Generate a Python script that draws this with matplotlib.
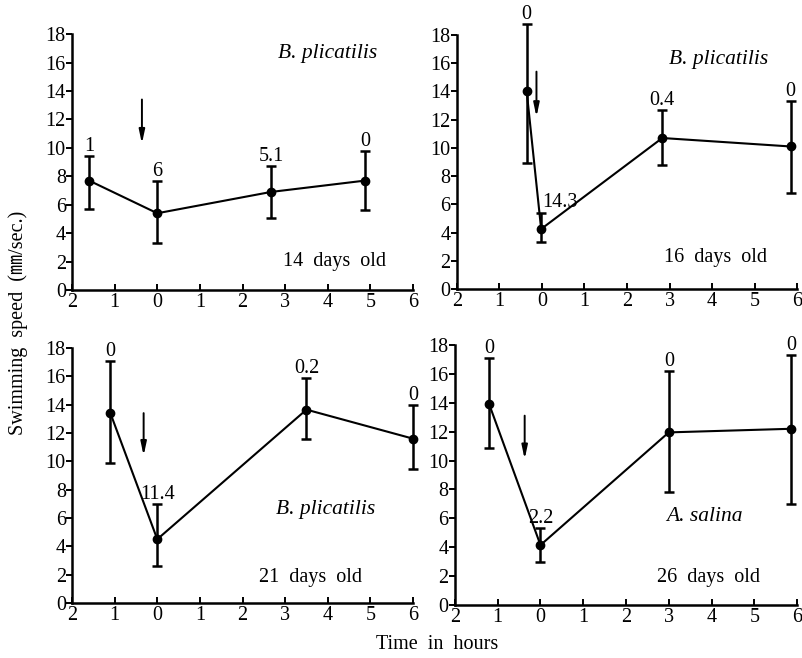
import matplotlib
matplotlib.use("Agg")
import matplotlib.pyplot as plt
import numpy as np

plt.rcParams['font.family'] = ['Liberation Serif', 'Noto Sans CJK JP']

# ---- data (time in hours, speed in mm/sec) ----
x_14 = [-1.6, 0.0, 2.67, 4.88]
y_14 = [7.7, 5.4, 6.9, 7.7]
hi_14 = [9.4, 7.7, 8.7, 9.8]
lo_14 = [5.7, 3.3, 5.1, 5.6]
lab_14 = ['1', '6', '5.1', '0']

x_16 = [-0.36, -0.02, 2.83, 5.85]
y_16 = [14.0, 4.25, 10.7, 10.1]
hi_16 = [18.75, 5.4, 12.65, 13.3]
lo_16 = [8.95, 3.3, 8.8, 6.8]
lab_16 = ['0', '14.3', '0.4', '0']

x_21 = [-1.1, 0.0, 3.5, 6.0]
y_21 = [13.4, 4.5, 13.65, 11.6]
hi_21 = [17.1, 7.0, 15.9, 14.0]
lo_21 = [9.9, 2.6, 11.6, 9.45]
lab_21 = ['0', '11.4', '0.2', '0']

x_26 = [-1.2, 0.0, 3.0, 5.86]
y_26 = [13.9, 4.15, 11.95, 12.2]
hi_26 = [17.1, 5.3, 16.2, 17.3]
lo_26 = [10.9, 3.0, 7.85, 7.0]
lab_26 = ['0', '2.2', '0', '0']

species = ['B. plicatilis', 'B. plicatilis', 'B. plicatilis', 'A. salina']
ages = ['14  days  old', '16  days  old', '21  days  old', '26  days  old']
# arrow (time, from speed, to speed)
arrows = [(-0.36, 13.6, 10.1), (-0.13, 15.6, 12.0), (-0.32, 13.6, 10.2), (-0.37, 13.3, 9.9)]

xticks = [-2, -1, 0, 1, 2, 3, 4, 5, 6]
xtick_labels = [str(abs(t)) for t in xticks]
yticks = list(range(0, 19, 2))

fig = plt.figure(figsize=(8.02, 6.58), dpi=100)

positions = [
    [0.0898, 0.5593, 0.4252, 0.3887],
    [0.5698, 0.5608, 0.4240, 0.3860],
    [0.0898, 0.0836, 0.4252, 0.3875],
    [0.5673, 0.0805, 0.4265, 0.3952],
]
panels = [
    (x_14, y_14, hi_14, lo_14, lab_14),
    (x_16, y_16, hi_16, lo_16, lab_16),
    (x_21, y_21, hi_21, lo_21, lab_21),
    (x_26, y_26, hi_26, lo_26, lab_26),
]
# where the species / age notes sit (axes fraction)
species_pos = [(0.75, 0.925), (0.77, 0.905), (0.745, 0.365), (0.73, 0.34)]
age_pos = [(0.77, 0.11), (0.76, 0.125), (0.70, 0.10), (0.74, 0.105)]

FS = 14.5

for i, (pos, (xs, ys, hi, lo, labs)) in enumerate(zip(positions, panels)):
    ax = fig.add_axes(pos)
    xs = np.array(xs); ys = np.array(ys)
    yerr = [ys - np.array(lo), np.array(hi) - ys]
    eb = ax.errorbar(xs, ys, yerr=yerr, fmt='-o', color='black', lw=1.5,
                     elinewidth=1.8, capsize=3.5, capthick=1.8, markersize=6)
    for art in eb.get_children():
        art.set_clip_on(False)

    for j, (xv, hv, lab) in enumerate(zip(xs, hi, labs)):
        if i == 1 and j == 1:
            # this count sits beside the point rather than above it
            ax.annotate(lab, (xv, ys[j]), xytext=(1, 12), textcoords='offset points',
                        ha='left', va='bottom', fontsize=FS, annotation_clip=False)
        else:
            ax.annotate(lab, (xv, hv), xytext=(0, 0), textcoords='offset points',
                        ha='center', va='bottom', fontsize=FS, annotation_clip=False)

    ax_x, a0, a1 = arrows[i]
    ax.annotate('', xy=(ax_x, a1), xytext=(ax_x, a0),
                arrowprops=dict(arrowstyle='-|>,head_length=0.8,head_width=0.17',
                                color='black', lw=1.4))

    ax.text(*species_pos[i], species[i], transform=ax.transAxes, ha='center',
            va='center', fontsize=FS + 1, style='italic')
    ax.text(*age_pos[i], ages[i], transform=ax.transAxes, ha='center',
            va='center', fontsize=FS)

    ax.set_xlim(-2, 6)
    ax.set_ylim(0, 18)
    ax.set_xticks(xticks)
    ax.set_xticklabels(xtick_labels)
    ax.set_yticks(yticks)
    ax.tick_params(axis='x', direction='in', length=4, width=1.4, labelsize=FS, pad=2)
    ax.tick_params(axis='y', direction='out', length=4, width=1.4, labelsize=FS, pad=0.5)
    for s in ['top', 'right']:
        ax.spines[s].set_visible(False)
    for s in ['left', 'bottom']:
        ax.spines[s].set_linewidth(1.8)
    ax.patch.set_alpha(0)

fig.text(0.023, 0.51, 'Swimming  speed  (㎜/sec.)', rotation=90, ha='center',
         va='center', fontsize=FS)
fig.text(0.545, 0.02, 'Time  in  hours', ha='center', va='center', fontsize=FS)

fig.savefig('out.png', dpi=100)
